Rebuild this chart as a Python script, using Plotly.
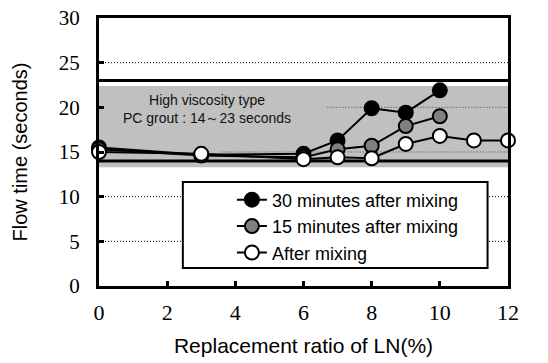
import plotly.graph_objects as go

ratio = [0, 3, 6, 7, 8, 9, 10]
ratio_after = [0, 3, 6, 7, 8, 9, 10, 11, 12]
t30 = [15.5, 14.7, 14.8, 16.3, 19.9, 19.4, 21.9]
t15 = [15.3, 14.6, 14.4, 15.3, 15.7, 17.9, 19.0]
t0 = [15.0, 14.8, 14.2, 14.4, 14.3, 15.9, 16.8, 16.3, 16.3]
names = ["30 minutes after mixing", "15 minutes after mixing", "After mixing"]
fills = ["#000000", "#808080", "#ffffff"]
band = [13.3, 22.4]
limits = [14, 23]
xticks = [0, 2, 4, 6, 8, 10, 12]
yticks = [0, 5, 10, 15, 20, 25, 30]

SANS = "Liberation Sans, Arial, sans-serif"
SERIF = "Liberation Serif, Times New Roman, serif"

fig = go.Figure()
for xs, ys, nm, fc in [(ratio, t30, names[0], fills[0]),
                       (ratio, t15, names[1], fills[1]),
                       (ratio_after, t0, names[2], fills[2])]:
    fig.add_trace(go.Scatter(x=xs, y=ys, name=nm, mode="lines+markers",
                             line=dict(color="black", width=2),
                             marker=dict(size=14, color=fc, line=dict(color="black", width=2)),
                             cliponaxis=False))

dot = "1px,2px"
shapes = [
    dict(type="rect", xref="x", yref="y", x0=0, x1=12, y0=band[0], y1=band[1],
         fillcolor="#c0c0c0", line=dict(width=0), layer="below"),
    dict(type="line", xref="x", yref="y", x0=0, x1=12, y0=25, y1=25, line=dict(color="black", width=1, dash=dot), layer="below"),
    dict(type="line", xref="x", yref="y", x0=0, x1=12, y0=10, y1=10, line=dict(color="black", width=1, dash=dot), layer="below"),
    dict(type="line", xref="x", yref="y", x0=0, x1=12, y0=5, y1=5, line=dict(color="black", width=1, dash=dot), layer="below"),
    dict(type="line", xref="x", yref="y", x0=6.7, x1=12, y0=20, y1=20, line=dict(color="#444", width=1, dash=dot), layer="below"),
    dict(type="line", xref="x", yref="y", x0=3.6, x1=12, y0=15, y1=15, line=dict(color="#444", width=1, dash=dot), layer="below"),
]
for v in limits:
    shapes.append(dict(type="line", xref="x", yref="y", x0=0, x1=12, y0=v, y1=v,
                       line=dict(color="black", width=3), layer="below"))
# legend frame
shapes.append(dict(type="rect", xref="paper", yref="paper", x0=0.205, x1=0.95, y0=0.067, y1=0.388,
                   fillcolor="white", line=dict(color="black", width=2), layer="above"))

fig.update_layout(
    width=548, height=363,
    margin=dict(l=99, r=40, t=18, b=77),
    paper_bgcolor="white", plot_bgcolor="white",
    shapes=shapes,
    showlegend=True,
    legend=dict(x=0.325, y=0.39, xanchor="left", yanchor="top",
                bgcolor="rgba(0,0,0,0)", borderwidth=0,
                font=dict(family=SANS, size=18, color="black"),
                tracegroupgap=0),
    annotations=[dict(x=3.17, y=19.8, xref="x", yref="y", showarrow=False,
                      text="High viscosity type<br>PC grout : 14～23 seconds",
                      font=dict(family=SANS, size=14, color="#111"),
                      align="center")],
    xaxis=dict(range=[0, 12], tickvals=xticks, ticks="inside", ticklen=5, tickwidth=3,
               tickcolor="black", showline=True, linecolor="black", linewidth=3, mirror=True,
               showgrid=False, zeroline=False, ticklabelstandoff=5, automargin=False,
               tickfont=dict(family=SERIF, size=22, color="black"),
               title=dict(text="Replacement ratio of LN(%)", standoff=14,
                          font=dict(family=SANS, size=21, color="black"))),
    yaxis=dict(range=[0, 30], tickvals=yticks, ticks="inside", ticklen=5, tickwidth=3,
               tickcolor="black", showline=True, linecolor="black", linewidth=3, mirror=True,
               showgrid=False, zeroline=False, ticklabelstandoff=12, automargin=False,
               tickfont=dict(family=SERIF, size=21, color="black"),
               title=dict(text="Flow time (seconds)", standoff=26,
                          font=dict(family=SANS, size=20, color="black"))),
)

fig.write_html("out.html")
